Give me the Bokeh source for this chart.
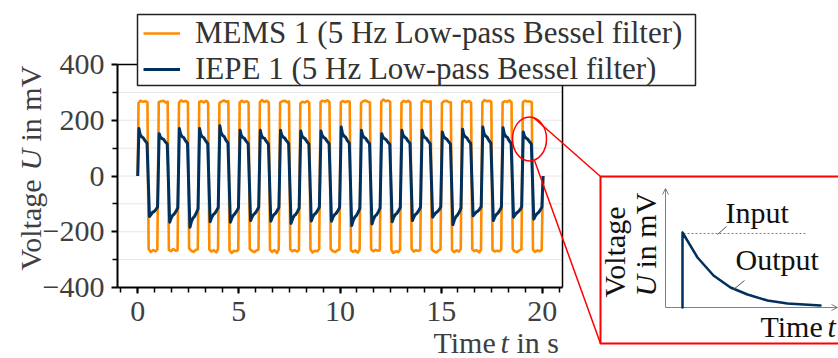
import math
from bokeh.plotting import figure
from bokeh.models import (Range1d, FixedTicker, Legend, LegendItem, Label,
                          PolyAnnotation, BoxAnnotation, Arrow, OpenHead)
from bokeh.embed import file_html
from bokeh.resources import INLINE

# ---------------- data ----------------
X_TICKS = [0, 5, 10, 15, 20]
Y_TICKS = [-400, -200, 0, 200, 400]
Y_MINOR = [-300, -100, 100, 300]
Y_GRID = [-300, -200, -100, 0, 100, 200, 300]
Y_LABELS = {-400: "\u2212400", -200: "\u2212200"}
X_MIN, X_MAX = -1, 21
Y_MIN, Y_MAX = -400, 400

# time offsets inside each 1 s period
MEMS_OFFSETS = [0.04, 0.14, 0.26, 0.38, 0.48, 0.54, 0.64, 0.76, 0.88, 0.97]
IEPE_OFFSETS = [0.06, 0.12, 0.20, 0.27, 0.35, 0.46, 0.58, 0.66, 0.74, 0.80, 0.90, 0.98]
T_START = 0.0
T_END = 20.04
V_START = 0
V_END = 0

MEMS_PERIODS = [
    [262, 270, 266, 268, 265, -262, -272, -266, -270, -264],
    [265, 268, 270, 264, 266, -265, -270, -262, -268, -266],
    [263, 271, 267, 269, 264, -260, -268, -272, -265, -263],
    [266, 269, 264, 270, 262, -264, -271, -266, -274, -262],
    [262, 267, 271, 266, 268, -266, -276, -268, -270, -265],
    [264, 270, 265, 268, 263, -262, -268, -273, -267, -264],
    [265, 272, 266, 270, 264, -265, -272, -266, -276, -263],
    [263, 268, 270, 265, 267, -263, -270, -266, -271, -265],
    [261, 266, 264, 269, 263, -264, -274, -268, -270, -262],
    [266, 270, 267, 272, 265, -262, -269, -273, -266, -264],
    [264, 269, 265, 268, 266, -266, -272, -267, -275, -263],
    [262, 268, 271, 266, 264, -263, -270, -265, -268, -266],
    [267, 274, 268, 271, 266, -265, -276, -270, -273, -264],
    [263, 269, 266, 270, 264, -262, -271, -266, -269, -265],
    [265, 271, 267, 266, 268, -264, -270, -274, -267, -263],
    [262, 268, 270, 265, 264, -266, -273, -267, -271, -262],
    [266, 270, 265, 269, 263, -263, -269, -266, -274, -265],
    [264, 272, 268, 270, 266, -265, -271, -268, -270, -264],
    [263, 268, 266, 271, 265, -262, -270, -273, -266, -263],
    [265, 270, 267, 268, 264, -264, -272, -267, -270, -265],
]

IEPE_PERIODS = [
    [170, 148, 140, 137, 128, 118, -145, -138, -130, -128, -120, -112],
    [152, 140, 134, 132, 124, 115, -166, -150, -140, -137, -126, -114],
    [170, 150, 141, 138, 128, 117, -184, -162, -150, -146, -132, -118],
    [170, 149, 140, 137, 127, 116, -164, -148, -138, -135, -124, -113],
    [180, 156, 145, 142, 130, 119, -166, -150, -140, -136, -125, -114],
    [164, 146, 138, 135, 126, 116, -160, -146, -137, -134, -123, -112],
    [164, 145, 137, 135, 125, 115, -162, -147, -138, -135, -124, -113],
    [164, 147, 139, 136, 127, 117, -170, -153, -142, -139, -127, -115],
    [161, 144, 137, 134, 125, 115, -161, -146, -137, -134, -123, -112],
    [161, 145, 138, 135, 126, 116, -162, -147, -138, -135, -124, -113],
    [176, 153, 143, 140, 129, 118, -178, -158, -147, -143, -130, -116],
    [164, 146, 138, 135, 126, 116, -172, -154, -143, -140, -128, -115],
    [152, 140, 134, 131, 123, 114, -164, -148, -138, -135, -124, -113],
    [164, 147, 139, 136, 127, 117, -160, -146, -137, -134, -123, -112],
    [164, 146, 138, 135, 126, 116, -148, -139, -132, -129, -121, -111],
    [158, 143, 136, 133, 125, 115, -175, -156, -145, -141, -129, -115],
    [168, 148, 140, 137, 127, 117, -143, -136, -129, -127, -119, -110],
    [176, 153, 143, 140, 129, 118, -160, -146, -137, -134, -123, -112],
    [173, 151, 142, 139, 128, 117, -148, -139, -132, -129, -121, -111],
    [158, 143, 136, 133, 125, 115, -155, -143, -135, -132, -122, -112],
]

# inset schematic (canvas pixels, y downwards)
INSET_BOX_X = [600, 600, 870, 870]
INSET_BOX_Y = [176, 343, 343, 176]
CONNECT_1 = (533, 117, 600, 176)
CONNECT_2 = (534, 160, 600, 343)
INSET_ORIGIN = (665, 307)
INSET_Y_TIP = 188
INSET_X_TIP = 837
INPUT_LINE = (683, 807, 233)
OUTPUT_X = [682, 682, 697, 713, 730, 747, 767, 787, 820]
OUTPUT_Y = [307, 232, 257, 275, 287, 294, 300, 303, 305]
INPUT_LEADER = (717, 234, 726, 226)
OUTPUT_LEADER = (733, 289, 744, 280)
LEGEND_BOX = (137, 14, 695, 85)   # left, top, right, bottom

# ---------------- build series ----------------
t_mems = [T_START] + [k + o for k in range(len(MEMS_PERIODS)) for o in MEMS_OFFSETS] + [T_END]
v_mems = [V_START] + [v for row in MEMS_PERIODS for v in row] + [V_END]
t_iepe = [T_START] + [k + o for k in range(len(IEPE_PERIODS)) for o in IEPE_OFFSETS] + [T_END]
v_iepe = [V_START] + [v for row in IEPE_PERIODS for v in row] + [V_END]

W, H = 838, 358
PL, PR, PT, PB = 117, 562, 64, 287          # plot box in canvas pixels
KX = (PR - PL) / (X_MAX - X_MIN)
KY = (PB - PT) / (Y_MAX - Y_MIN)
FONT = "Liberation Serif"
GREY = "#3f3f3f"
LABEL_SHIFT = 11   # baseline correction for Label annotations

p = figure(width=W, height=H, output_backend="svg", toolbar_location=None,
           x_range=Range1d(X_MIN - PL / KX, X_MAX + (W - PR) / KX),
           y_range=Range1d(Y_MIN - (H - PB) / KY, Y_MAX + PT / KY),
           min_border=0, min_border_left=0, min_border_right=0,
           min_border_top=0, min_border_bottom=0)
p.background_fill_color = "white"
p.border_fill_color = "white"
p.outline_line_color = None
p.xgrid.visible = False
p.ygrid.visible = False

p.xaxis.ticker = FixedTicker(ticks=X_TICKS, minor_ticks=[i * 5 / 6 for i in range(-1, 26)])
p.yaxis.ticker = FixedTicker(ticks=Y_TICKS, minor_ticks=Y_MINOR)
p.yaxis.major_label_overrides = Y_LABELS
p.xaxis.fixed_location = Y_MIN
p.yaxis.fixed_location = X_MIN
p.xaxis.bounds = (X_MIN, X_MAX)
p.yaxis.bounds = (Y_MIN, Y_MAX)
for ax in (p.xaxis[0], p.yaxis[0]):
    ax.axis_line_color = "black"
    ax.axis_line_width = 2
    ax.major_tick_line_color = "black"
    ax.major_tick_line_width = 2
    ax.major_tick_in = 0
    ax.major_tick_out = 6
    ax.minor_tick_line_color = "black"
    ax.minor_tick_line_width = 1.5
    ax.minor_tick_in = 0
    ax.minor_tick_out = 5
    ax.major_label_text_font = FONT
    ax.major_label_text_font_size = "30px"
    ax.major_label_text_color = GREY
p.yaxis.major_label_standoff = 7
p.xaxis.major_label_standoff = 8

# grid lines and top/right border of the plot box
p.segment(x0=[X_MIN] * len(Y_GRID), x1=[X_MAX] * len(Y_GRID), y0=Y_GRID, y1=Y_GRID,
          line_color="#e6e6e6", line_width=1)
p.segment(x0=[X_MIN, X_MAX], x1=[X_MAX, X_MAX], y0=[Y_MAX, Y_MIN], y1=[Y_MAX, Y_MAX],
          line_color="black", line_width=1.5)

r_mems = p.line(t_mems, v_mems, line_color="#ff8c00", line_width=2.6, line_join="round")
r_iepe = p.line(t_iepe, v_iepe, line_color="#00305e", line_width=3, line_join="round")

# lens ellipse around last IEPE peak
p.ellipse(x=[19.37], y=[133], width=[1.68], height=[158], fill_alpha=0,
          line_color="red", line_width=1.5)

# legend frame (white box with dark border) below the legend entries
lb_l, lb_t, lb_r, lb_b = LEGEND_BOX
p.add_layout(BoxAnnotation(left=lb_l, right=lb_r, top=H - lb_t, bottom=H - lb_b,
                           left_units="screen", right_units="screen",
                           top_units="screen", bottom_units="screen",
                           fill_color="white", fill_alpha=1,
                           line_color="#222222", line_alpha=1, line_width=1.5))

legend = Legend(items=[LegendItem(label="MEMS 1 (5 Hz Low-pass Bessel filter)", renderers=[r_mems]),
                       LegendItem(label="IEPE 1 (5 Hz Low-pass Bessel filter)", renderers=[r_iepe])],
                location=(143, H - 87),
                label_text_font=FONT, label_text_font_size="31px", label_text_color="#333333",
                glyph_width=37, glyph_height=30, label_height=30, label_standoff=15,
                padding=2, spacing=-3, margin=0,
                border_line_color=None,
                background_fill_color="white", background_fill_alpha=0)
p.add_layout(legend)


def label(text, x, y, size="30px", color=GREY, style="normal", rotated=False):
    if rotated:
        px, py, ang = x - LABEL_SHIFT, y, math.pi / 2
    else:
        px, py, ang = x, y - LABEL_SHIFT, 0.0
    p.add_layout(Label(x=px, y=H - py, x_units="screen", y_units="screen", text=text,
                       text_font=FONT, text_font_size=size, text_color=color,
                       text_font_style=style, angle=ang, angle_units="rad",
                       text_align="left", text_baseline="alphabetic"))


def seg(x0, y0, x1, y1, color, width, dash="solid", head=None):
    p.add_layout(Arrow(x_start=x0, y_start=H - y0, x_end=x1, y_end=H - y1,
                       start_units="screen", end_units="screen", end=head,
                       line_color=color, line_width=width, line_alpha=1, line_dash=dash))


# main axis titles
label("Voltage", 41, 270, rotated=True)
label("U", 41, 170, style="italic", rotated=True)
label("in mV", 41, 141, rotated=True)
label("Time", 433, 353)
label("t", 500, 353, style="italic")
label("in s", 516, 353)

# connectors and inset box
seg(*CONNECT_1, "red", 1.5)
seg(*CONNECT_2, "red", 1.5)
p.add_layout(PolyAnnotation(xs=INSET_BOX_X, ys=[H - y for y in INSET_BOX_Y],
                            xs_units="screen", ys_units="screen",
                            fill_alpha=0, line_color="red", line_alpha=1, line_width=2))

# inset axes
ox, oy = INSET_ORIGIN
AX_GREY = "#808080"
seg(ox, oy, ox, INSET_Y_TIP, AX_GREY, 1, head=OpenHead(size=6, line_color=AX_GREY, line_width=1))
seg(ox, oy, INSET_X_TIP, oy, AX_GREY, 1, head=OpenHead(size=6, line_color=AX_GREY, line_width=1))
seg(INPUT_LINE[0], INPUT_LINE[2], INPUT_LINE[1], INPUT_LINE[2], AX_GREY, 1, dash="2 2")

# output curve (drawn out and back so the outline stays open)
xs = OUTPUT_X + OUTPUT_X[-2:0:-1]
ys = OUTPUT_Y + OUTPUT_Y[-2:0:-1]
p.add_layout(PolyAnnotation(xs=xs, ys=[H - y for y in ys],
                            xs_units="screen", ys_units="screen",
                            fill_alpha=0, line_color="#00305e", line_alpha=1,
                            line_width=2.5, line_join="round"))

seg(*INPUT_LEADER, "#555555", 1)
seg(*OUTPUT_LEADER, "#555555", 1)

INK = "#111111"
label("Input", 725, 223, color=INK)
label("Output", 735, 270, color=INK)
label("Time", 760, 337, color=INK)
label("t", 827, 337, color=INK, style="italic")
label("Voltage", 625, 297, color=INK, rotated=True)
label("U", 656, 296, color=INK, style="italic", rotated=True)
label("in mV", 656, 268, color=INK, rotated=True)

open("out.html", "w").write(file_html(p, INLINE))
